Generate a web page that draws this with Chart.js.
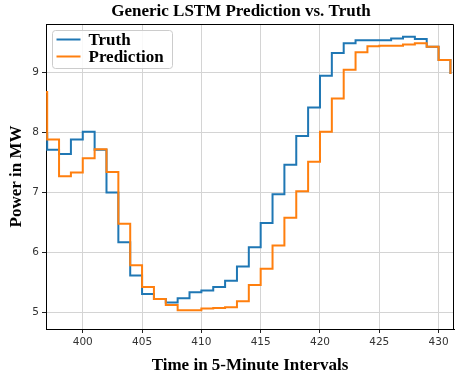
<!DOCTYPE html>
<html>
<head>
<meta charset="utf-8">
<style>
  html, body { margin: 0; padding: 0; background: #fff; }
  #wrap { width: 455px; height: 379px; }
</style>
</head>
<body>
<div id="wrap"><canvas id="lstmChart"></canvas></div>
<script src="https://cdn.jsdelivr.net/npm/chart.js@4.4.1/dist/chart.umd.min.js"></script>
<script>
// each value holds from its time step to the next one
const timeSteps = [396, 397, 398, 399, 400, 401, 402, 403, 404, 405, 406, 407,
  408, 409, 410, 411, 412, 413, 414, 415, 416, 417, 418, 419,
  420, 421, 422, 423, 424, 425, 426, 427, 428, 429, 430, 431];
const truthValues = [7.97, 7.71, 7.64, 7.88, 8.01, 7.71, 7.00, 6.17, 5.62, 5.31, 5.23, 5.17,
  5.24, 5.34, 5.37, 5.43, 5.53, 5.77, 6.09, 6.49, 6.97, 7.46, 7.94, 8.41,
  8.94, 9.32, 9.48, 9.53, 9.53, 9.53, 9.56, 9.59, 9.55, 9.42, 9.20, 8.97];
const predictionValues = [8.67, 7.88, 7.27, 7.33, 7.57, 7.72, 7.34, 6.48, 5.79, 5.43, 5.23, 5.13,
  5.04, 5.04, 5.07, 5.08, 5.09, 5.19, 5.46, 5.73, 6.12, 6.58, 7.02, 7.51,
  8.01, 8.56, 9.04, 9.33, 9.43, 9.44, 9.44, 9.46, 9.48, 9.42, 9.20, 8.97];
const xTicks = [400, 405, 410, 415, 420, 425, 430];
const yTicks = [5, 6, 7, 8, 9];

const serif = '"Liberation Serif", "Times New Roman", serif';

function toPoints(vals) {
  return timeSteps.map((t, i) => ({ x: t, y: vals[i] }));
}

// title drawn over the plot (matplotlib-ish placement)
const topTitle = {
  id: 'topTitle',
  afterDraw(chart) {
    const ctx = chart.ctx;
    ctx.save();
    ctx.font = 'bold 17px ' + serif;
    ctx.fillStyle = '#000';
    ctx.textAlign = 'center';
    ctx.textBaseline = 'middle';
    ctx.fillText('Generic LSTM Prediction vs. Truth', 241, 12);
    ctx.restore();
  }
};

// top + right spines
const frame = {
  id: 'frame',
  afterDatasetsDraw(chart) {
    const { ctx, chartArea } = chart;
    ctx.save();
    ctx.strokeStyle = '#000';
    ctx.lineWidth = 1;
    ctx.beginPath();
    ctx.moveTo(chartArea.left, chartArea.top + 0.5);
    ctx.lineTo(chartArea.right - 0.5, chartArea.top + 0.5);
    ctx.lineTo(chartArea.right - 0.5, chartArea.bottom);
    ctx.stroke();
    ctx.restore();
  }
};

// legend box in the upper left corner of the plot
const insideLegend = {
  id: 'insideLegend',
  afterDraw(chart) {
    const { ctx, chartArea } = chart;
    const x = chartArea.left + 6.5, y = chartArea.top + 6.5;
    ctx.save();
    ctx.fillStyle = 'rgba(255,255,255,0.85)';
    ctx.strokeStyle = '#cccccc';
    ctx.lineWidth = 1;
    ctx.beginPath();
    ctx.roundRect(x, y, 120, 38, 3);
    ctx.fill();
    ctx.stroke();
    chart.data.datasets.forEach((ds, i) => {
      const ly = y + 9 + i * 17;
      ctx.strokeStyle = ds.borderColor;
      ctx.lineWidth = 2;
      ctx.beginPath();
      ctx.moveTo(x + 4, ly);
      ctx.lineTo(x + 28, ly);
      ctx.stroke();
      ctx.fillStyle = '#000';
      ctx.font = 'bold 17px ' + serif;
      ctx.textBaseline = 'middle';
      ctx.fillText(ds.label, x + 36, ly + 1);
    });
    ctx.restore();
  }
};

new Chart(document.getElementById('lstmChart'), {
  type: 'line',
  data: {
    datasets: [{
      label: 'Truth',
      data: toPoints(truthValues),
      borderColor: '#1f77b4',
      borderWidth: 2,
      stepped: 'before',
      pointRadius: 0,
      fill: false,
      order: 1
    }, {
      label: 'Prediction',
      data: toPoints(predictionValues),
      borderColor: '#ff7f0e',
      borderWidth: 2,
      stepped: 'before',
      pointRadius: 0,
      fill: false,
      order: 0 // drawn on top of truth
    }]
  },
  options: {
    responsive: true,
    maintainAspectRatio: false,
    animation: false,
    devicePixelRatio: 1,
    layout: { padding: { top: 24, right: 1, left: 0, bottom: 0 } },
    plugins: {
      legend: { display: false },
      tooltip: { enabled: false },
      title: { display: false }
    },
    scales: {
      x: {
        type: 'linear',
        min: 396.9,
        max: 431.3,
        afterBuildTicks: (scale) => { scale.ticks = xTicks.map(v => ({ value: v })); },
        afterFit: (scale) => { scale.height = 50; },
        grid: { color: '#d4d4d4', tickColor: '#222', tickLength: 4 },
        border: { color: '#000', width: 1 },
        ticks: {
          color: '#333',
          padding: 3,
          maxRotation: 0,
          font: { family: '"DejaVu Sans"', size: 10.5 }
        },
        title: {
          display: true,
          text: 'Time in 5-Minute Intervals',
          color: '#000',
          font: { family: serif, size: 17, weight: 'bold' },
          padding: { top: 0, bottom: 3 }
        }
      },
      y: {
        min: 4.73,
        max: 9.8,
        afterBuildTicks: (scale) => { scale.ticks = yTicks.map(v => ({ value: v })); },
        afterFit: (scale) => { scale.width = 46; },
        grid: { color: '#d4d4d4', tickColor: '#222', tickLength: 4 },
        border: { color: '#000', width: 1 },
        ticks: {
          color: '#333',
          padding: 3,
          font: { family: '"DejaVu Sans"', size: 10.5 }
        },
        title: {
          display: true,
          text: 'Power in MW',
          color: '#000',
          font: { family: serif, size: 17, weight: 'bold' },
          padding: { top: 6, bottom: 0 }
        }
      }
    }
  },
  plugins: [frame, insideLegend, topTitle]
});
</script>
</body>
</html>
